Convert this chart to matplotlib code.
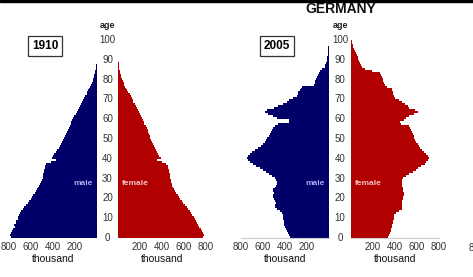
import numpy as np
import matplotlib
matplotlib.use('Agg')
import matplotlib.pyplot as plt
from matplotlib import transforms
from matplotlib.patches import Rectangle

plt.rcParams['font.family'] = ['Liberation Sans', 'DejaVu Sans']

# Germany population by single year of age (thousand)
ages = list(range(0, 101))

male1910 = [780, 790, 780, 770, 760, 750, 755, 740, 735, 720,
            715, 705, 700, 690, 675, 660, 645, 630, 615, 600,
            590, 580, 565, 555, 545, 540, 530, 520, 510, 500,
            495, 490, 490, 485, 480, 475, 470, 460, 420, 370,
            410, 400, 390, 375, 360, 350, 340, 330, 320, 310,
            300, 295, 285, 270, 265, 255, 245, 240, 235, 225,
            215, 205, 195, 185, 175, 165, 155, 145, 135, 125,
            115, 105, 95, 88, 80, 70, 62, 55, 47, 40,
            34, 28, 23, 18, 14, 11, 8, 6, 4, 3,
            2, 1, 1, 0, 0, 0, 0, 0, 0, 0, 0]

female1910 = [770, 780, 770, 760, 750, 740, 730, 720, 710, 700,
              690, 675, 660, 650, 640, 625, 610, 595, 580, 565,
              555, 545, 530, 520, 510, 500, 495, 490, 485, 480,
              475, 470, 470, 465, 460, 455, 450, 440, 400, 350,
              390, 375, 365, 355, 345, 335, 325, 315, 305, 300,
              295, 290, 280, 275, 270, 260, 250, 240, 235, 230,
              220, 210, 200, 190, 180, 170, 160, 150, 140, 135,
              125, 115, 105, 95, 85, 75, 66, 58, 50, 42,
              35, 29, 24, 19, 15, 12, 9, 7, 5, 3,
              2, 1, 1, 0, 0, 0, 0, 0, 0, 0, 0]

male2005 = [355, 360, 370, 380, 390, 400, 405, 405, 410, 415,
            420, 420, 430, 450, 475, 490, 490, 485, 490, 500,
            505, 505, 500, 505, 505, 495, 485, 475, 475, 480,
            495, 520, 545, 570, 600, 630, 660, 690, 715, 735,
            745, 740, 720, 700, 675, 645, 620, 600, 585, 570,
            560, 545, 535, 525, 515, 505, 490, 460, 365, 360,
            470, 510, 555, 585, 565, 500, 460, 420, 385, 360,
            330, 295, 285, 278, 268, 255, 245, 135, 128, 124,
            118, 110, 100, 90, 78, 60, 36, 33, 30, 22,
            19, 16, 13, 11, 9, 7, 5, 4, 3, 2, 1]

female2005 = [336, 345, 350, 360, 365, 372, 375, 380, 385, 390,
              392, 395, 405, 440, 460, 465, 465, 462, 465, 470,
              475, 480, 478, 475, 475, 470, 465, 462, 460, 465,
              475, 500, 530, 560, 590, 610, 640, 670, 685, 700,
              705, 700, 685, 665, 645, 630, 615, 605, 595, 585,
              575, 570, 560, 555, 545, 540, 530, 450, 445, 480,
              500, 530, 570, 610, 580, 530, 515, 490, 465, 440,
              400, 390, 385, 380, 375, 370, 330, 310, 300, 295,
              290, 280, 270, 260, 190, 130, 100, 90, 80, 72,
              65, 60, 52, 45, 36, 28, 20, 15, 10, 5, 3]

years = ['1910', '2005']
blue = '#000068'
red = '#b00000'

W, H = 473, 277
fig = plt.figure(figsize=(W / 100, H / 100), dpi=100)

def px(x0, y_top, w, h):
    # pixel box (from top-left) -> figure fraction
    return [x0 / W, 1 - (y_top + h) / H, w / W, h / H]

def pyramid(x_male, x_fem, males, females, with_line):
    axm = fig.add_axes(px(x_male, 39, 88, 199))
    axf = fig.add_axes(px(x_fem, 39, 88, 199))
    axm.barh(ages, males, height=1.0, align='edge', color=blue, linewidth=0)
    axf.barh(ages, females, height=1.0, align='edge', color=red, linewidth=0)
    axm.set_xlim(800, 0)
    axf.set_xlim(0, 800)
    for ax in (axm, axf):
        ax.set_ylim(0, 100.5)
        ax.set_yticks([])
        ax.set_xticks([200, 400, 600, 800])
        ax.tick_params(axis='x', length=0, pad=3, labelsize=7, labelcolor='#333333')
        for s in ax.spines.values():
            s.set_visible(False)
        if with_line:
            ax.spines['bottom'].set_visible(True)
            ax.spines['bottom'].set_color('#cccccc')
            ax.spines['bottom'].set_linewidth(0.8)
        ax.set_xlabel('thousand', fontsize=7.5, labelpad=1, color='#111111')
    # age scale between the halves
    xc = (x_male + 88 + x_fem) / 2
    tr = transforms.blended_transform_factory(fig.transFigure, axf.transData)
    for a in range(0, 101, 10):
        axf.text(xc / W, a, str(a), transform=tr, ha='center', va='center',
                 fontsize=7, color='#333333')
    fig.text(xc / W, 1 - 25 / H, 'age', ha='center', va='center',
             fontsize=6.5, fontweight='bold', color='#222222')
    axm.text(0.845, 0.275, 'male', transform=axm.transAxes, ha='center', va='center',
             fontsize=6, color='#a8a8f0', fontweight='bold')
    axf.text(0.2, 0.275, 'female', transform=axf.transAxes, ha='center', va='center',
             fontsize=6, color='#f5c0c0', fontweight='bold')
    return axm, axf

pyramid(9, 118, male1910, female1910, False)
pyramid(241, 351, male2005, female2005, True)

# year boxes
fig.text(45 / W, 1 - 46 / H, years[0], ha='center', va='center', fontsize=8.5,
         fontweight='bold', bbox=dict(boxstyle='square,pad=0.3', fc='white', ec='#333333', lw=0.9))
fig.text(277 / W, 1 - 46 / H, years[1], ha='center', va='center', fontsize=8.5,
         fontweight='bold', bbox=dict(boxstyle='square,pad=0.3', fc='white', ec='#333333', lw=0.9))

fig.text(341 / W, 1 - 9 / H, 'GERMANY', ha='center', va='center', fontsize=10,
         fontweight='bold', color='#111111')

# black strip along the top edge and a clipped tick label from the next panel
fig.patches.append(Rectangle((0, 1 - 2 / H), 1, 2 / H, transform=fig.transFigure,
                             color='black', zorder=10))
fig.text(468.5 / W, 1 - 248 / H, '800', ha='left', va='center', fontsize=7, color='#333333')

fig.savefig('out.png', dpi=100)
